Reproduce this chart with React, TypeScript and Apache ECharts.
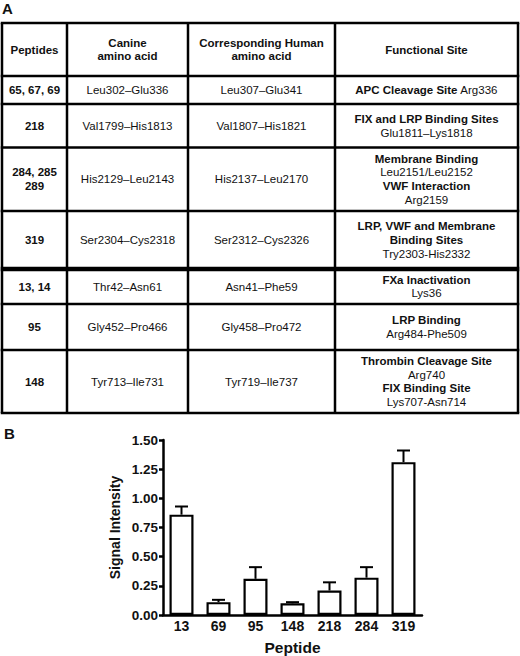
import React, { useEffect, useRef } from "react";
import * as echarts from "echarts";

// ---------- Table data (panel A) ----------
const tableHeaders = ["Peptides", "Canine\namino acid", "Corresponding Human\namino acid", "Functional Site"];
const peptideGroups = ["65, 67, 69", "218", "284, 285\n289", "319", "13, 14", "95", "148"];
const canineAminoAcids = [
  "Leu302–Glu336",
  "Val1799–His1813",
  "His2129–Leu2143",
  "Ser2304–Cys2318",
  "Thr42–Asn61",
  "Gly452–Pro466",
  "Tyr713–Ile731",
];
const humanAminoAcids = [
  "Leu307–Glu341",
  "Val1807–His1821",
  "His2137–Leu2170",
  "Ser2312–Cys2326",
  "Asn41–Phe59",
  "Gly458–Pro472",
  "Tyr719–Ile737",
];
const functionalSites = [
  "{b|APC Cleavage Site} Arg336",
  "{b|FIX and LRP Binding Sites}\nGlu1811–Lys1818",
  "{b|Membrane Binding}\nLeu2151/Leu2152\n{b|VWF Interaction}\nArg2159",
  "{b|LRP, VWF and Membrane}\n{b|Binding Sites}\nTry2303-His2332",
  "{b|FXa Inactivation}\nLys36",
  "{b|LRP Binding}\nArg484-Phe509",
  "{b|Thrombin Cleavage Site}\nArg740\n{b|FIX Binding Site}\nLys707-Asn714",
];

// ---------- Bar chart data (panel B) ----------
const peptideLabels = ["13", "69", "95", "148", "218", "284", "319"];
const signalMeans = [0.86, 0.11, 0.31, 0.1, 0.21, 0.32, 1.31];
const signalErrors = [0.07, 0.02, 0.1, 0.01, 0.07, 0.09, 0.1];
const yTicks = { min: 0, max: 1.5, interval: 0.25 };

// ---------- Layout ----------
const FONT = "'Liberation Sans', Arial, Helvetica, sans-serif";
const colX = [2, 67, 188, 335, 518];
const rowY = [23, 76, 104, 147.5, 211, 269, 304, 350, 413];
const thickRowIndex = 5;
const TABLE_FS = 11.5;
const LH = 13.8;

function buildTable(): any[] {
  const els: any[] = [];
  rowY.forEach((y, i) => {
    const w = i === thickRowIndex ? 4.5 : 2.5;
    els.push({
      type: "line",
      shape: { x1: colX[0] - 1.25, y1: y, x2: colX[colX.length - 1] + 1.25, y2: y },
      style: { stroke: "#000", lineWidth: w },
    });
  });
  colX.forEach((x) => {
    els.push({
      type: "line",
      shape: { x1: x, y1: rowY[0], x2: x, y2: rowY[rowY.length - 1] },
      style: { stroke: "#000", lineWidth: 2.5 },
    });
  });
  const cellText = (text: string, c: number, r: number, bold: boolean) => {
    const cx = (colX[c] + colX[c + 1]) / 2;
    const cy = (rowY[r] + rowY[r + 1]) / 2;
    els.push({
      type: "text",
      x: cx,
      y: cy,
      style: {
        text,
        align: "center",
        verticalAlign: "middle",
        fontSize: TABLE_FS,
        fontFamily: FONT,
        fontWeight: bold ? "bold" : "normal",
        lineHeight: LH,
        fill: "#111",
        rich: {
          b: { fontSize: TABLE_FS, fontFamily: FONT, fontWeight: "bold", lineHeight: LH, fill: "#111" },
        },
      },
    });
  };
  tableHeaders.forEach((h, c) => cellText(h, c, 0, true));
  for (let r = 0; r < peptideGroups.length; r++) {
    cellText(peptideGroups[r], 0, r + 1, true);
    cellText(canineAminoAcids[r], 1, r + 1, false);
    cellText(humanAminoAcids[r], 2, r + 1, false);
    cellText(functionalSites[r], 3, r + 1, false);
  }
  els.push({
    type: "text",
    x: 2,
    y: 8,
    style: { text: "A", fontSize: 15, fontWeight: "bold", fontFamily: FONT, fill: "#111", verticalAlign: "middle" },
  });
  els.push({
    type: "text",
    x: 4,
    y: 433,
    style: { text: "B", fontSize: 15, fontWeight: "bold", fontFamily: FONT, fill: "#111", verticalAlign: "middle" },
  });
  return els;
}

export default function App() {
  const ref = useRef<HTMLDivElement>(null);
  useEffect(() => {
    document.body.style.margin = "0";
    const chart = echarts.init(ref.current!, null, { renderer: "svg" });
    const errData = signalMeans.map((m, i) => [i, m, m + signalErrors[i]]);
    chart.setOption({
      animation: false,
      backgroundColor: "#fff",
      textStyle: { fontFamily: FONT },
      graphic: buildTable(),
      grid: { left: 163, right: 98, top: 440, bottom: 40, containLabel: false },
      xAxis: {
        type: "category",
        data: peptideLabels,
        name: "Peptide",
        nameLocation: "middle",
        nameGap: 24,
        nameTextStyle: { fontSize: 15.5, fontWeight: "bold", color: "#111", fontFamily: FONT },
        axisLine: { lineStyle: { color: "#000", width: 2.5 } },
        axisTick: { show: false },
        axisLabel: { fontSize: 14, fontWeight: "bold", color: "#111", margin: 4, fontFamily: FONT },
      },
      yAxis: {
        type: "value",
        min: yTicks.min,
        max: yTicks.max,
        interval: yTicks.interval,
        name: "Signal Intensity",
        nameLocation: "middle",
        nameGap: 41,
        nameTextStyle: { fontSize: 14, fontWeight: "bold", color: "#111", fontFamily: FONT },
        axisLine: { show: true, lineStyle: { color: "#000", width: 2.5 } },
        axisTick: { show: true, length: 4, lineStyle: { color: "#000", width: 2.5 } },
        splitLine: { show: false },
        axisLabel: {
          fontSize: 13.5,
          fontWeight: "bold",
          color: "#111",
          margin: 5,
          fontFamily: FONT,
          formatter: (v: number) => v.toFixed(2),
        },
      },
      series: [
        {
          type: "bar",
          data: signalMeans,
          barWidth: 24,
          itemStyle: { color: "#fff", borderColor: "#000", borderWidth: 2.2 },
          z: 2,
        },
        {
          type: "custom",
          data: errData,
          z: 3,
          renderItem: (params: any, api: any) => {
            const base = api.coord([api.value(0), api.value(1)]);
            const top = api.coord([api.value(0), api.value(2)]);
            const half = 6.5;
            return {
              type: "group",
              children: [
                {
                  type: "line",
                  shape: { x1: base[0], y1: base[1], x2: top[0], y2: top[1] },
                  style: { stroke: "#000", lineWidth: 2 },
                },
                {
                  type: "line",
                  shape: { x1: top[0] - half, y1: top[1], x2: top[0] + half, y2: top[1] },
                  style: { stroke: "#000", lineWidth: 2 },
                },
              ],
            };
          },
        },
      ],
    });
    return () => chart.dispose();
  }, []);
  return <div ref={ref} style={{ width: 520, height: 656 }} />;
}
